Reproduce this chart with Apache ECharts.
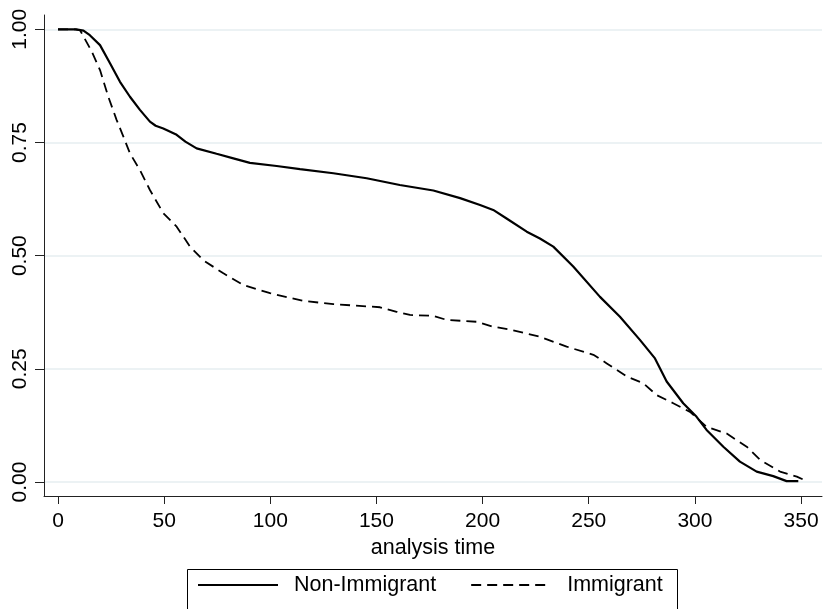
<!DOCTYPE html>
<html>
<head>
<meta charset="utf-8">
<script src="https://cdn.jsdelivr.net/npm/echarts@6/dist/echarts.min.js"></script>
<style>
html,body{margin:0;padding:0;background:#fff;}
#chart{width:823px;height:609px;}
</style>
</head>
<body>
<div id="chart"></div>
<script>
// Non-Immigrant survival estimates (analysis time, survival)
const nonImmTime = [0, 8.5, 12, 15, 19.8, 24.5, 29.2, 33.9, 38.6, 43.3, 46, 49.6, 55.9, 60, 65.3, 74.7, 82.6, 90.4, 103, 114, 129.7, 145.4, 161, 176.8, 189.4, 198.8, 205, 211.3, 220.8, 227, 233.3, 242.7, 255.3, 264.7, 274.1, 281.2, 286.7, 294.5, 300.8, 305.5, 313.4, 321.2, 329.1, 336.9, 343.2, 348.7];
const nonImmSurv = [1.0, 1.0, 0.997, 0.987, 0.965, 0.925, 0.884, 0.851, 0.822, 0.796, 0.787, 0.781, 0.767, 0.752, 0.737, 0.725, 0.715, 0.705, 0.698, 0.691, 0.682, 0.671, 0.656, 0.644, 0.627, 0.612, 0.601, 0.582, 0.553, 0.538, 0.520, 0.476, 0.409, 0.365, 0.314, 0.273, 0.222, 0.174, 0.144, 0.115, 0.078, 0.045, 0.023, 0.013, 0.002, 0.002];
// Immigrant survival estimates
const immTime = [0, 8, 10.4, 15.9, 19.8, 23.7, 27.6, 30.8, 33.9, 38.6, 43.3, 49.6, 55.9, 62.2, 68.4, 77.9, 87.3, 99.9, 115.5, 129.7, 151.7, 159.5, 165.8, 176.8, 183.1, 197.2, 205, 212.9, 220.8, 227, 239.6, 252.2, 258.5, 267.9, 275.7, 282, 289.8, 297.7, 305.5, 315, 324.4, 330.7, 340.1, 348, 352.6];
const immSurv = [1.0, 1.0, 0.998, 0.951, 0.910, 0.851, 0.800, 0.763, 0.726, 0.689, 0.645, 0.594, 0.564, 0.520, 0.490, 0.461, 0.435, 0.417, 0.400, 0.393, 0.386, 0.376, 0.369, 0.367, 0.358, 0.354, 0.343, 0.337, 0.328, 0.321, 0.299, 0.281, 0.262, 0.233, 0.218, 0.192, 0.174, 0.155, 0.122, 0.107, 0.078, 0.049, 0.023, 0.012, 0.002];
const xTicks = [0, 50, 100, 150, 200, 250, 300, 350];
const yTicks = [0, 0.25, 0.5, 0.75, 1.0];
const seriesNames = ['Non-Immigrant', 'Immigrant'];

const pair = (xs, ys) => xs.map((x, i) => [x, ys[i]]);
const FONT = 'Liberation Sans, Arial, sans-serif';
const chart = echarts.init(document.getElementById('chart'), null, {renderer: 'canvas'});
chart.setOption({
  backgroundColor: '#fff',
  animation: false,
  grid: {left: 44, right: 1, top: 15, bottom: 113, containLabel: false},
  xAxis: {
    type: 'value', min: -6.59, max: 359.87,
    name: 'analysis time', nameLocation: 'middle', nameGap: 40,
    nameTextStyle: {fontFamily: FONT, fontSize: 21.5, color: '#000'},
    axisLine: {show: true, onZero: false, lineStyle: {color: '#222', width: 1}},
    axisTick: {show: true, length: 8, customValues: xTicks, lineStyle: {color: '#222', width: 1}},
    axisLabel: {customValues: xTicks, margin: 15, fontFamily: FONT, fontSize: 21, color: '#000'},
    splitLine: {show: false}
  },
  yAxis: {
    type: 'value', min: -0.0309, max: 1.0316,
    axisLine: {show: true, onZero: false, lineStyle: {color: '#222', width: 1}},
    axisTick: {show: true, length: 9, customValues: yTicks, lineStyle: {color: '#222', width: 1}},
    axisLabel: {customValues: yTicks, rotate: 90, margin: 13, fontFamily: FONT, fontSize: 21, color: '#000',
      formatter: v => v.toFixed(2)},
    splitLine: {show: true, lineStyle: {color: '#E6EEF0', width: 1.5}}
  },
  legend: {
    show: true, left: 197, top: 574, itemWidth: 80, itemHeight: 14, itemGap: 34,
    padding: 0,
    data: seriesNames,
    itemStyle: {opacity: 0},
    textStyle: {fontFamily: FONT, fontSize: 21.5, color: '#000', padding: [0, 0, 0, 11]}
  },
  graphic: [{
    type: 'rect', shape: {x: 187.5, y: 569.5, width: 490, height: 60},
    style: {fill: 'none', stroke: '#000', lineWidth: 1}, silent: true
  }],
  series: [
    {name: seriesNames[0], type: 'line', data: pair(nonImmTime, nonImmSurv), showSymbol: false, symbol: 'none',
     lineStyle: {color: '#000', width: 2.2, type: 'solid'}, itemStyle: {color: '#000'}},
    {name: seriesNames[1], type: 'line', data: pair(immTime, immSurv), showSymbol: false, symbol: 'none',
     lineStyle: {color: '#000', width: 1.8, type: [10, 6]}, itemStyle: {color: '#000'}}
  ]
});
</script>
</body>
</html>
